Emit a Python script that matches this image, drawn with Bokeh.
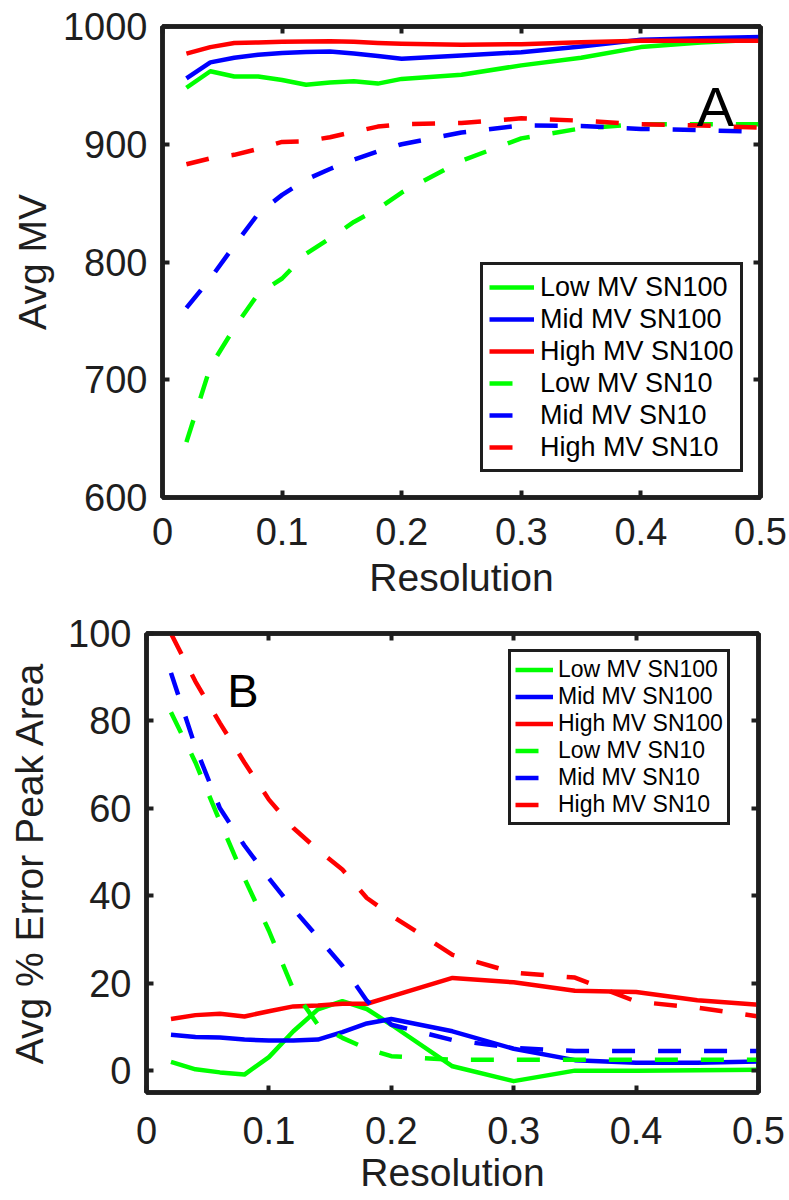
from bokeh.plotting import figure
from bokeh.models import (Legend, LegendItem, LinearAxis, Label, FixedTicker,
                          CustomJSTickFormatter, Range1d)
from bokeh.embed import file_html
from bokeh.resources import INLINE

# ---------------- data ----------------
resolution = [0.02, 0.04, 0.06, 0.08, 0.10, 0.12, 0.14, 0.16, 0.18, 0.20,
              0.25, 0.30, 0.35, 0.40, 0.45, 0.50]

series_names = ["Low MV SN100", "Mid MV SN100", "High MV SN100",
                "Low MV SN10", "Mid MV SN10", "High MV SN10"]

# Panel A: Avg MV
a_low_sn100 = [948, 962, 957.5, 957.5, 954.5, 950.5, 952.5, 953.5, 951.5, 955.5,
               959, 967, 973.5, 982.5, 986.5, 989]
a_mid_sn100 = [956, 969.5, 973.5, 976, 977.5, 978.3, 978.8, 977, 975, 972.6,
               975.4, 978.2, 983, 988.7, 990, 991]
a_high_sn100 = [977, 982.5, 986, 986.5, 987, 987.3, 987.5, 987, 986, 985.3,
                984.6, 985, 986.7, 988, 988, 988]
a_low_sn10 = [647, 711, 744, 773, 786, 807, 820, 834, 845, 859,
              886, 905, 913.5, 917, 917, 917]
a_mid_sn10 = [761, 786, 814, 841, 857, 870, 879, 887, 894, 900,
              910, 916, 915.5, 913, 912, 910.5]
a_high_sn10 = [883, 888, 891, 896, 902, 902.5, 906, 910.5, 915, 917,
               918, 922, 920, 917, 916, 914]

# Panel B: Avg % Error Peak Area
b_low_sn100 = [2, 0.3, -0.4, -0.9, 3.1, 9, 14, 15.9, 14.1, 10.5,
               1, -2.4, 0, 0, 0.1, 0.2]
b_mid_sn100 = [8.2, 7.7, 7.6, 7.1, 6.9, 6.9, 7.1, 8.8, 10.8, 11.8,
               9, 5, 2.4, 1.8, 1.8, 2.1]
b_high_sn100 = [11.8, 12.7, 13, 12.4, 13.6, 14.7, 14.9, 15.3, 15.3, 17,
                21.2, 20.2, 18.3, 18, 16.1, 15.1]
b_low_sn10 = [82, 70.5, 57, 44, 32, 18.5, 10.5, 7.5, 5, 3.3,
              2.5, 2.5, 2.5, 2.5, 2.5, 2.5]
b_mid_sn10 = [91, 74, 60, 51.5, 44, 37, 30.5, 24, 16, 10.5,
              7, 5.2, 4.5, 4.5, 4.5, 4.5]
b_high_sn10 = [100, 89, 79.5, 70.5, 62, 55.5, 50.5, 46, 39.5, 35.5,
               26.5, 22.4, 21.3, 15.8, 14.4, 12.4]

x_ticks = [0, 0.1, 0.2, 0.3, 0.4, 0.5]
a_y_ticks = [600, 700, 800, 900, 1000]
b_y_ticks = [0, 20, 40, 60, 80, 100]

colors = ["#00ff00", "#0000ff", "#ff0000", "#00ff00", "#0000ff", "#ff0000"]
dashes = ["solid", "solid", "solid", "23 23", "23 23", "23 23"]

FONT = "Liberation Sans"
AXC = "#1e1e1e"


def style_axis(ax, ticks, show_labels=True):
    ax.ticker = FixedTicker(ticks=ticks)
    ax.axis_line_width = 4.5
    ax.axis_line_color = AXC
    ax.major_tick_in = 7
    ax.major_tick_out = 0
    ax.major_tick_line_width = 4
    ax.major_tick_line_color = AXC
    ax.minor_tick_line_color = None
    ax.major_label_text_font = FONT
    ax.major_label_text_font_size = "38px"
    ax.major_label_text_color = AXC
    ax.axis_label_text_font = FONT
    ax.axis_label_text_font_size = "39px"
    ax.axis_label_text_font_style = "normal"
    ax.axis_label_text_color = AXC
    if not show_labels:
        ax.formatter = CustomJSTickFormatter(code="return ''")
        ax.major_label_standoff = 0


def make_panel(width, height, borders, yrange, yticks, ylabel, data, letter,
               letter_pos, letter_size, legend_loc, legend_font, legend_row,
               legend_glyph_w, legend_pad, legend_standoff, xlab_standoffs,
               ylab_standoff):
    p = figure(width=width, height=height, output_backend="svg",
               toolbar_location=None, x_range=Range1d(0, 0.5),
               y_range=Range1d(*yrange),
               min_border_left=borders[0], min_border_right=borders[1],
               min_border_top=borders[2], min_border_bottom=borders[3])
    p.xgrid.visible = False
    p.ygrid.visible = False
    p.outline_line_color = AXC
    p.outline_line_width = 4.5
    p.outline_line_alpha = 1
    p.background_fill_color = "white"
    p.border_fill_color = "white"

    style_axis(p.xaxis[0], x_ticks)
    style_axis(p.yaxis[0], yticks)
    p.xaxis[0].axis_label = "Resolution"
    p.yaxis[0].axis_label = ylabel
    p.xaxis[0].major_label_standoff = xlab_standoffs[0]
    p.xaxis[0].axis_label_standoff = xlab_standoffs[1]
    p.yaxis[0].major_label_standoff = 15
    p.yaxis[0].axis_label_standoff = ylab_standoff

    top = LinearAxis()
    style_axis(top, x_ticks, show_labels=False)
    p.add_layout(top, "above")
    right = LinearAxis()
    style_axis(right, yticks, show_labels=False)
    p.add_layout(right, "right")

    items = []
    for name, ys, c, d in zip(series_names, data, colors, dashes):
        r = p.line(resolution, ys, line_color=c, line_width=4.5,
                   line_dash=d, line_join="round")
        items.append(LegendItem(label=name, renderers=[r]))

    legend = Legend(items=items, location=legend_loc,
                    label_text_font=FONT, label_text_font_size=legend_font,
                    label_text_color="#000000",
                    label_height=legend_row, glyph_height=legend_row,
                    glyph_width=legend_glyph_w, label_standoff=legend_standoff,
                    spacing=0, padding=legend_pad, margin=0,
                    border_line_color=AXC, border_line_width=3,
                    border_line_alpha=1,
                    background_fill_color="white", background_fill_alpha=1)
    p.add_layout(legend, "center")

    p.add_layout(Label(x=letter_pos[0], y=letter_pos[1], text=letter,
                       text_font=FONT, text_font_size=letter_size,
                       text_color="#000000", text_align="center",
                       text_baseline="alphabetic"))
    return p


pA = make_panel(789, 605, (162, 29, 26, 108), (600, 1000), a_y_ticks, "Avg MV",
                [a_low_sn100, a_mid_sn100, a_high_sn100,
                 a_low_sn10, a_mid_sn10, a_high_sn10],
                "A", (0.4624, 932), "56px", (318, 25), "27px", 32, 45, 6, 6,
                (20, 8), 6)

pB = make_panel(789, 595, (146, 31, 28, 108), (-5, 100), b_y_ticks,
                "Avg % Error Peak Area",
                [b_low_sn100, b_mid_sn100, b_high_sn100,
                 b_low_sn10, b_mid_sn10, b_high_sn10],
                "B", (0.0788, 87), "47px", (362, 267), "23px", 27, 38, 4, 5,
                (24, 4), 14)

html = file_html([pA, pB], INLINE)
html = html.replace("<head>", "<head><style>html,body{margin:0;padding:0;}"
                    "body>div{margin:0;padding:0;}</style>", 1)
open("out.html", "w").write(html)
